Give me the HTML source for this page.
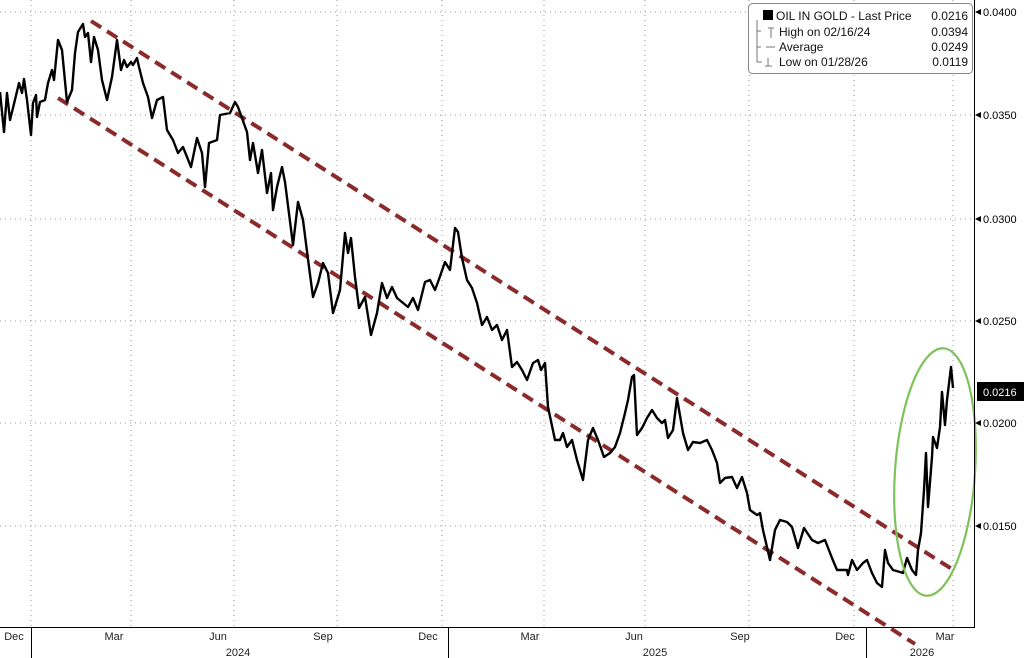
<!DOCTYPE html>
<html><head><meta charset="utf-8"><style>
html,body{margin:0;padding:0;background:#fff;}
svg{display:block;font-family:"Liberation Sans",sans-serif;}
</style></head><body>
<svg width="1024" height="658" viewBox="0 0 1024 658" xmlns="http://www.w3.org/2000/svg">
<rect width="1024" height="658" fill="#fff"/>
<g stroke="#999" stroke-width="1" stroke-dasharray="1,4">
<line x1="0" y1="12" x2="974" y2="12"/><line x1="0" y1="115" x2="974" y2="115"/>
<line x1="0" y1="219" x2="974" y2="219"/><line x1="0" y1="321" x2="974" y2="321"/>
<line x1="0" y1="423" x2="974" y2="423"/><line x1="0" y1="526" x2="974" y2="526"/>
<line x1="31" y1="0" x2="31" y2="627"/><line x1="131" y1="0" x2="131" y2="627"/>
<line x1="234" y1="0" x2="234" y2="627"/><line x1="337" y1="0" x2="337" y2="627"/>
<line x1="442" y1="0" x2="442" y2="627"/><line x1="544" y1="0" x2="544" y2="627"/>
<line x1="645" y1="0" x2="645" y2="627"/><line x1="749" y1="0" x2="749" y2="627"/>
<line x1="854" y1="0" x2="854" y2="627"/><line x1="953" y1="0" x2="953" y2="627"/>
</g>
<g stroke="#8b2a2a" stroke-width="4" stroke-dasharray="12,7" fill="none">
<line x1="91" y1="21" x2="955" y2="571"/>
<line x1="58" y1="98" x2="915" y2="644"/>
</g>
<polyline fill="none" stroke="#000" stroke-width="2.4" stroke-linejoin="round" points="0,92 4,132 7,93 10,120 13,108 19,83 22,93 24,79 27,100 31,135 33,103 36,95 37,117 40,102 45,100 48,83 52,70 54,80 58,40 62,50 67,102 72,90 75,53 78,32 83,24 85,37 88,33 91,62 94,37 98,50 102,80 107,100 112,77 117,40 121,70 124,60 127,67 131,62 133,65 137,58 139,67 143,83 148,97 152,118 157,100 163,97 167,130 173,140 178,153 183,147 191,167 197,138 202,153 205,187 209,143 217,140 220,115 230,113 235,102 238,107 247,132 250,160 253,143 258,173 262,150 267,193 271,173 273,210 277,187 282,167 285,182 293,245 298,202 303,220 309,267 313,297 318,283 323,263 328,273 333,313 340,290 345,233 348,253 351,238 355,277 359,308 365,297 371,335 377,313 382,283 387,298 392,287 397,298 408,307 413,298 418,310 425,282 430,280 435,290 438,282 445,262 450,270 455,228 458,232 462,258 467,280 472,288 477,303 482,325 487,317 492,330 497,325 502,340 507,330 512,367 517,362 522,370 527,380 533,363 538,360 541,370 545,363 548,407 555,440 560,440 563,433 567,447 572,440 577,460 583,480 588,440 593,428 598,440 604,457 610,453 615,447 620,433 625,413 628,400 632,377 634,375 637,435 642,428 647,418 652,410 657,418 662,423 665,420 668,438 673,430 677,398 683,433 688,450 693,442 700,443 707,440 712,450 717,463 720,483 725,478 732,477 737,488 742,477 747,493 750,510 757,515 760,513 763,530 770,560 775,530 780,520 787,522 792,527 798,548 804,528 812,540 818,543 825,540 832,558 837,570 847,570 848,575 852,560 857,570 863,563 867,560 872,573 877,583 882,587 885,550 888,563 893,570 900,572 903,573 907,558 912,570 916,575 918,550 921,533 924,490 926,453 928,507 932,457 933,437 937,448 940,427 942,392 945,425 947,400 951,367 953,388"/>
<ellipse cx="935" cy="472" rx="40" ry="124" fill="none" stroke="#7dc35a" stroke-width="2.2" transform="rotate(4 935 472)"/>
<g stroke="#000" stroke-width="1">
<line x1="974.5" y1="0" x2="974.5" y2="627"/>
<line x1="0" y1="627.5" x2="975" y2="627.5"/>
<line x1="31.5" y1="627" x2="31.5" y2="658"/><line x1="448.5" y1="627" x2="448.5" y2="658"/><line x1="866.5" y1="627" x2="866.5" y2="658"/>
</g>
<g fill="#000" font-size="11">
<path d="M975 12 l6 -3 v6z M975 115 l6 -3 v6z M975 219 l6 -3 v6z M975 321 l6 -3 v6z M975 423 l6 -3 v6z M975 526 l6 -3 v6z"/>
<text x="983" y="16">0.0400</text><text x="983" y="119">0.0350</text><text x="983" y="223">0.0300</text>
<text x="983" y="325">0.0250</text><text x="983" y="427">0.0200</text><text x="983" y="530">0.0150</text>
</g>
<rect x="977" y="382" width="47" height="19" fill="#000"/>
<text x="983" y="396" font-size="11" fill="#fff">0.0216</text>
<g font-size="11" fill="#222" text-anchor="middle">
<text x="14" y="640">Dec</text><text x="114" y="640">Mar</text><text x="218" y="640">Jun</text>
<text x="323" y="640">Sep</text><text x="428" y="640">Dec</text><text x="530" y="640">Mar</text>
<text x="634" y="640">Jun</text><text x="740" y="640">Sep</text><text x="845" y="640">Dec</text>
<text x="945" y="640">Mar</text>
<text x="238" y="656">2024</text><text x="655" y="656">2025</text><text x="922" y="656">2026</text>
</g>
<rect x="748.5" y="3.5" width="224" height="70" rx="4" fill="#fff" stroke="#888"/>
<g font-size="12" fill="#111">
<rect x="763" y="10" width="10" height="10" fill="#000"/>
<text x="776" y="20">OIL IN GOLD - Last Price</text><text x="968" y="20" text-anchor="end">0.0216</text>
<text x="779" y="36">High on 02/16/24</text><text x="968" y="36" text-anchor="end">0.0394</text>
<text x="779" y="51">Average</text><text x="968" y="51" text-anchor="end">0.0249</text>
<text x="779" y="66">Low on 01/28/26</text><text x="968" y="66" text-anchor="end">0.0119</text>
</g>
<g stroke="#777" stroke-width="1" fill="none">
<path d="M757 20 V62 H762 M757 31 h4 M757 47 h4"/>
<path d="M768 28 h6 M771 28 v10 M766 47 h9 M768 58 v8 M765 66 h7"/>
</g>
</svg>
</body></html>
